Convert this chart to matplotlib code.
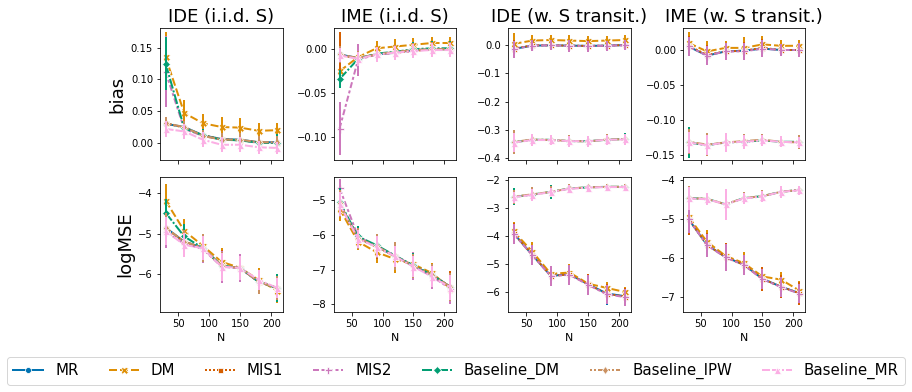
import matplotlib
matplotlib.use("Agg")
import matplotlib.pyplot as plt
from matplotlib.lines import Line2D

N = [30, 60, 90, 120, 150, 180, 210]
series = ["MR", "DM", "MIS1", "MIS2", "Baseline_DM", "Baseline_IPW", "Baseline_MR"]
titles = ["IDE (i.i.d. S)", "IME (i.i.d. S)", "IDE (w. S transit.)", "IME (w. S transit.)"]
row_labels = ["bias", "logMSE"]

# ---- bias, IDE iid ----
ide_iid_bias = {
    "MR":           [0.030, 0.025, 0.012, 0.006, 0.005, 0.001, 0.001],
    "DM":           [0.135, 0.047, 0.031, 0.025, 0.024, 0.019, 0.020],
    "MIS1":         [0.031, 0.024, 0.012, 0.006, 0.004, 0.001, 0.000],
    "MIS2":         [0.112, 0.022, 0.011, 0.005, 0.004, 0.000, 0.000],
    "Baseline_DM":  [0.125, 0.023, 0.012, 0.005, 0.004, 0.000, 0.000],
    "Baseline_IPW": [0.031, 0.025, 0.011, 0.005, 0.005, 0.001, 0.001],
    "Baseline_MR":  [0.022, 0.018, 0.005, -0.003, -0.003, -0.007, -0.008],
}
ide_iid_bias_err = {
    "MR":           [0.010, 0.010, 0.010, 0.010, 0.010, 0.010, 0.010],
    "DM":           [0.040, 0.020, 0.015, 0.015, 0.015, 0.012, 0.012],
    "MIS1":         [0.010, 0.010, 0.010, 0.010, 0.010, 0.010, 0.010],
    "MIS2":         [0.056, 0.012, 0.010, 0.010, 0.010, 0.010, 0.010],
    "Baseline_DM":  [0.042, 0.012, 0.010, 0.010, 0.010, 0.010, 0.014],
    "Baseline_IPW": [0.010, 0.010, 0.010, 0.010, 0.010, 0.010, 0.010],
    "Baseline_MR":  [0.012, 0.012, 0.012, 0.012, 0.012, 0.010, 0.010],
}
# ---- bias, IME iid ----
ime_iid_bias = {
    "MR":           [-0.006, -0.010, -0.006, -0.004, -0.001, 0.000, 0.000],
    "DM":           [-0.025, -0.009, 0.001, 0.003, 0.005, 0.007, 0.007],
    "MIS1":         [-0.007, -0.010, -0.006, -0.004, -0.002, 0.000, 0.000],
    "MIS2":         [-0.090, -0.012, -0.006, -0.004, -0.002, 0.000, 0.000],
    "Baseline_DM":  [-0.034, -0.011, -0.005, -0.003, 0.000, 0.001, 0.001],
    "Baseline_IPW": [-0.006, -0.010, -0.006, -0.003, -0.001, 0.000, 0.000],
    "Baseline_MR":  [-0.007, -0.011, -0.006, -0.004, -0.002, -0.001, -0.001],
}
ime_iid_bias_err = {
    "MR":           [0.010, 0.008, 0.008, 0.008, 0.008, 0.008, 0.008],
    "DM":           [0.012, 0.008, 0.008, 0.008, 0.008, 0.007, 0.007],
    "MIS1":         [0.027, 0.016, 0.008, 0.008, 0.008, 0.008, 0.008],
    "MIS2":         [0.030, 0.018, 0.008, 0.008, 0.008, 0.008, 0.008],
    "Baseline_DM":  [0.010, 0.008, 0.008, 0.008, 0.008, 0.008, 0.008],
    "Baseline_IPW": [0.010, 0.008, 0.008, 0.008, 0.008, 0.008, 0.008],
    "Baseline_MR":  [0.008, 0.008, 0.008, 0.008, 0.008, 0.008, 0.008],
}
# ---- bias, IDE w. S transit ----
ide_tr_bias = {
    "MR":           [-0.013, -0.001, 0.000, -0.001, -0.002, -0.001, 0.001],
    "DM":           [0.005, 0.017, 0.019, 0.017, 0.015, 0.017, 0.019],
    "MIS1":         [-0.012, 0.000, 0.000, -0.001, -0.002, -0.001, 0.001],
    "MIS2":         [-0.014, -0.001, 0.000, -0.002, -0.003, -0.001, 0.000],
    "Baseline_DM":  [-0.345, -0.336, -0.336, -0.341, -0.341, -0.336, -0.333],
    "Baseline_IPW": [-0.344, -0.335, -0.337, -0.340, -0.342, -0.335, -0.334],
    "Baseline_MR":  [-0.346, -0.337, -0.337, -0.341, -0.341, -0.336, -0.335],
}
ide_tr_bias_err = {
    "MR":           [0.030, 0.020, 0.018, 0.020, 0.020, 0.018, 0.018],
    "DM":           [0.040, 0.020, 0.018, 0.020, 0.020, 0.018, 0.018],
    "MIS1":         [0.030, 0.020, 0.018, 0.020, 0.020, 0.018, 0.018],
    "MIS2":         [0.030, 0.020, 0.018, 0.020, 0.020, 0.018, 0.018],
    "Baseline_DM":  [0.035, 0.020, 0.018, 0.022, 0.020, 0.018, 0.020],
    "Baseline_IPW": [0.042, 0.020, 0.018, 0.020, 0.020, 0.018, 0.018],
    "Baseline_MR":  [0.035, 0.020, 0.018, 0.020, 0.020, 0.018, 0.018],
}
# ---- bias, IME w. S transit ----
ime_tr_bias = {
    "MR":           [0.005, -0.008, -0.002, -0.001, 0.002, 0.000, 0.000],
    "DM":           [0.010, -0.002, 0.003, 0.003, 0.008, 0.006, 0.006],
    "MIS1":         [0.006, -0.007, -0.002, -0.001, 0.003, 0.000, 0.000],
    "MIS2":         [0.005, -0.008, -0.002, -0.002, 0.002, 0.000, 0.000],
    "Baseline_DM":  [-0.132, -0.136, -0.132, -0.131, -0.129, -0.131, -0.131],
    "Baseline_IPW": [-0.131, -0.135, -0.132, -0.130, -0.128, -0.131, -0.132],
    "Baseline_MR":  [-0.132, -0.136, -0.132, -0.131, -0.129, -0.131, -0.132],
}
ime_tr_bias_err = {
    "MR":           [0.014, 0.014, 0.012, 0.012, 0.012, 0.008, 0.010],
    "DM":           [0.015, 0.015, 0.010, 0.015, 0.012, 0.008, 0.008],
    "MIS1":         [0.014, 0.014, 0.012, 0.012, 0.012, 0.008, 0.010],
    "MIS2":         [0.014, 0.014, 0.012, 0.012, 0.012, 0.008, 0.010],
    "Baseline_DM":  [0.022, 0.014, 0.014, 0.010, 0.008, 0.008, 0.010],
    "Baseline_IPW": [0.018, 0.016, 0.014, 0.010, 0.008, 0.008, 0.010],
    "Baseline_MR":  [0.015, 0.014, 0.014, 0.010, 0.008, 0.008, 0.008],
}
# ---- logMSE, IDE iid ----
ide_iid_mse = {
    "MR":           [-4.85, -5.20, -5.35, -5.80, -5.85, -6.20, -6.35],
    "DM":           [-4.18, -4.93, -5.30, -5.70, -5.85, -6.15, -6.42],
    "MIS1":         [-4.87, -5.20, -5.36, -5.80, -5.85, -6.20, -6.35],
    "MIS2":         [-4.95, -5.25, -5.38, -5.82, -5.86, -6.20, -6.35],
    "Baseline_DM":  [-4.48, -5.07, -5.36, -5.80, -5.85, -6.20, -6.35],
    "Baseline_IPW": [-4.85, -5.20, -5.35, -5.80, -5.85, -6.20, -6.35],
    "Baseline_MR":  [-4.93, -5.28, -5.36, -5.82, -5.85, -6.15, -6.35],
}
ide_iid_mse_err = {
    "MR":           [0.35, 0.30, 0.35, 0.35, 0.30, 0.30, 0.30],
    "DM":           [0.42, 0.30, 0.30, 0.35, 0.30, 0.30, 0.30],
    "MIS1":         [0.35, 0.30, 0.35, 0.40, 0.30, 0.30, 0.30],
    "MIS2":         [0.40, 0.30, 0.35, 0.40, 0.35, 0.30, 0.30],
    "Baseline_DM":  [0.35, 0.30, 0.35, 0.35, 0.30, 0.30, 0.35],
    "Baseline_IPW": [0.35, 0.30, 0.35, 0.35, 0.30, 0.30, 0.30],
    "Baseline_MR":  [0.35, 0.30, 0.30, 0.35, 0.30, 0.25, 0.25],
}
# ---- logMSE, IME iid ----
ime_iid_mse = {
    "MR":           [-5.10, -6.10, -6.33, -6.62, -6.90, -7.15, -7.50],
    "DM":           [-5.25, -6.20, -6.50, -6.70, -6.85, -7.10, -7.55],
    "MIS1":         [-5.10, -6.10, -6.35, -6.62, -6.90, -7.15, -7.50],
    "MIS2":         [-4.66, -6.05, -6.33, -6.60, -6.90, -7.20, -7.55],
    "Baseline_DM":  [-5.05, -6.05, -6.30, -6.60, -6.88, -7.15, -7.50],
    "Baseline_IPW": [-5.10, -6.10, -6.33, -6.62, -6.90, -7.15, -7.50],
    "Baseline_MR":  [-5.12, -6.12, -6.35, -6.62, -6.92, -7.20, -7.52],
}
ime_iid_mse_err = {
    "MR":           [0.40, 0.30, 0.35, 0.40, 0.35, 0.30, 0.40],
    "DM":           [0.35, 0.25, 0.30, 0.40, 0.35, 0.30, 0.40],
    "MIS1":         [0.40, 0.30, 0.35, 0.40, 0.40, 0.30, 0.45],
    "MIS2":         [0.25, 0.30, 0.30, 0.30, 0.40, 0.35, 0.45],
    "Baseline_DM":  [0.40, 0.30, 0.30, 0.35, 0.35, 0.30, 0.35],
    "Baseline_IPW": [0.40, 0.30, 0.35, 0.40, 0.35, 0.30, 0.40],
    "Baseline_MR":  [0.35, 0.25, 0.30, 0.30, 0.30, 0.30, 0.35],
}
# ---- logMSE, IDE w. S transit ----
ide_tr_mse = {
    "MR":           [-3.90, -4.67, -5.42, -5.36, -5.72, -6.05, -6.15],
    "DM":           [-3.83, -4.55, -5.35, -5.30, -5.70, -5.85, -6.00],
    "MIS1":         [-3.90, -4.66, -5.42, -5.37, -5.72, -6.06, -6.16],
    "MIS2":         [-3.92, -4.68, -5.43, -5.38, -5.74, -6.08, -6.18],
    "Baseline_DM":  [-2.60, -2.52, -2.42, -2.30, -2.26, -2.24, -2.24],
    "Baseline_IPW": [-2.59, -2.51, -2.42, -2.30, -2.26, -2.24, -2.24],
    "Baseline_MR":  [-2.61, -2.53, -2.43, -2.31, -2.27, -2.25, -2.25],
}
ide_tr_mse_err = {
    "MR":           [0.35, 0.35, 0.35, 0.35, 0.35, 0.40, 0.30],
    "DM":           [0.35, 0.35, 0.30, 0.30, 0.35, 0.20, 0.20],
    "MIS1":         [0.35, 0.35, 0.35, 0.35, 0.35, 0.35, 0.30],
    "MIS2":         [0.35, 0.35, 0.35, 0.35, 0.35, 0.35, 0.30],
    "Baseline_DM":  [0.30, 0.20, 0.25, 0.15, 0.10, 0.05, 0.05],
    "Baseline_IPW": [0.25, 0.25, 0.20, 0.15, 0.10, 0.10, 0.10],
    "Baseline_MR":  [0.20, 0.20, 0.15, 0.12, 0.10, 0.08, 0.08],
}
# ---- logMSE, IME w. S transit ----
ime_tr_mse = {
    "MR":           [-5.00, -5.66, -5.97, -6.17, -6.53, -6.73, -6.90],
    "DM":           [-4.94, -5.58, -5.94, -6.13, -6.47, -6.55, -6.83],
    "MIS1":         [-5.00, -5.66, -5.97, -6.17, -6.53, -6.73, -6.90],
    "MIS2":         [-5.00, -5.67, -5.98, -6.18, -6.54, -6.74, -6.91],
    "Baseline_DM":  [-4.46, -4.48, -4.62, -4.46, -4.41, -4.30, -4.25],
    "Baseline_IPW": [-4.46, -4.48, -4.62, -4.46, -4.41, -4.30, -4.25],
    "Baseline_MR":  [-4.47, -4.49, -4.62, -4.47, -4.42, -4.30, -4.26],
}
ime_tr_mse_err = {
    "MR":           [0.40, 0.30, 0.35, 0.25, 0.30, 0.30, 0.30],
    "DM":           [0.45, 0.30, 0.30, 0.30, 0.25, 0.20, 0.25],
    "MIS1":         [0.40, 0.30, 0.35, 0.25, 0.30, 0.30, 0.30],
    "MIS2":         [0.35, 0.30, 0.35, 0.25, 0.25, 0.25, 0.25],
    "Baseline_DM":  [0.30, 0.15, 0.25, 0.15, 0.15, 0.10, 0.10],
    "Baseline_IPW": [0.30, 0.15, 0.30, 0.15, 0.15, 0.10, 0.10],
    "Baseline_MR":  [0.30, 0.15, 0.40, 0.15, 0.15, 0.15, 0.12],
}

# y tick values shown on each panel
yticks = [
    [[0.00, 0.05, 0.10, 0.15], [-0.10, -0.05, 0.00],
     [-0.4, -0.3, -0.2, -0.1, 0.0], [-0.15, -0.10, -0.05, 0.00]],
    [[-6, -5, -4], [-8, -7, -6, -5], [-6, -5, -4, -3, -2], [-7, -6, -5, -4]],
]

panels = [
    [(ide_iid_bias, ide_iid_bias_err), (ime_iid_bias, ime_iid_bias_err),
     (ide_tr_bias, ide_tr_bias_err), (ime_tr_bias, ime_tr_bias_err)],
    [(ide_iid_mse, ide_iid_mse_err), (ime_iid_mse, ime_iid_mse_err),
     (ide_tr_mse, ide_tr_mse_err), (ime_tr_mse, ime_tr_mse_err)],
]
ylims = [
    [(-0.027, 0.181), (-0.1256, 0.024), (-0.408, 0.0617), (-0.157, 0.0314)],
    [(-6.945, -3.595), (-8.22, -4.34), (-6.71, -1.89), (-7.38, -3.92)],
]

colors = {
    "MR": "#0173b2", "DM": "#de8f05", "MIS1": "#d55e00", "MIS2": "#cc78bc",
    "Baseline_DM": "#029e73", "Baseline_IPW": "#ca9161", "Baseline_MR": "#fbafe4",
}
markers = {
    "MR": "o", "DM": "X", "MIS1": "s", "MIS2": "P",
    "Baseline_DM": "D", "Baseline_IPW": "d", "Baseline_MR": "^",
}
dashes = {
    "MR": (None, None), "DM": (4, 1.5), "MIS1": (1, 1), "MIS2": (3, 1.25, 1.5, 1.25),
    "Baseline_DM": (5, 1, 1, 1), "Baseline_IPW": (1, 1, 1, 1, 4, 1),
    "Baseline_MR": (4, 1, 4, 1, 1, 1),
}
msize = {"MR": 6, "DM": 7, "MIS1": 5, "MIS2": 7, "Baseline_DM": 5,
         "Baseline_IPW": 6, "Baseline_MR": 7}

W, H = 912, 392
fig = plt.figure(figsize=(W / 72, H / 72), dpi=72)

col_left = [160, 334, 508, 683]
col_w = [123, 122, 123, 122]
row_top = [28, 177]
row_bot = [160, 312]

LW = 2.0
for r in range(2):
    for c in range(4):
        ax = fig.add_axes([col_left[c] / W, 1 - row_bot[r] / H, col_w[c] / W,
                           (row_bot[r] - row_top[r]) / H])
        vals, errs = panels[r][c]
        for s in series:
            ln, = ax.plot(N, vals[s], color=colors[s], lw=LW, marker=markers[s],
                          markersize=msize[s], markeredgecolor="w",
                          markeredgewidth=0.75)
            if dashes[s][0] is not None:
                ln.set_dashes(dashes[s])
            ax.errorbar(N, vals[s], yerr=errs[s], linestyle="", color=colors[s],
                        elinewidth=LW, capsize=0)
        ax.set_xlim(21, 219)
        ax.set_yticks(yticks[r][c])
        ax.set_ylim(*ylims[r][c])
        ax.set_xticks([50, 100, 150, 200])
        ax.tick_params(labelsize=10)
        if r == 0:
            ax.set_xticklabels([])
            ax.set_title(titles[c], fontsize=18)
        else:
            ax.set_xlabel("N", fontsize=11)
        if c == 0:
            ax.set_ylabel(row_labels[r], fontsize=18)

handles = []
for s in series:
    h = Line2D([0], [0], color=colors[s], lw=LW, marker=markers[s],
               markersize=msize[s], markeredgecolor="w", markeredgewidth=0.75)
    if dashes[s][0] is not None:
        h.set_dashes(dashes[s])
    handles.append(h)
fig.legend(handles, series, loc="center", bbox_to_anchor=(0.5, 1 - 371 / H),
           ncol=7, fontsize=15, frameon=True, columnspacing=2.0)

fig.savefig("out.png", dpi=72)
